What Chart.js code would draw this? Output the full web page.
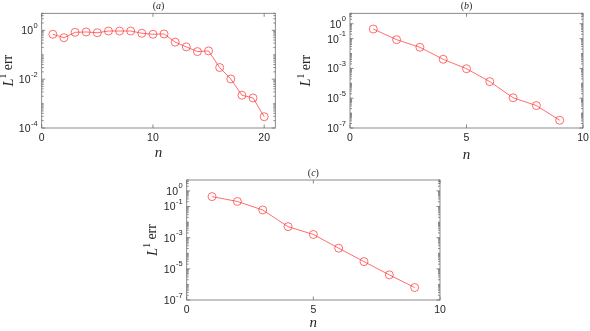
<!DOCTYPE html>
<html>
<head>
<meta charset="utf-8">
<script src="https://cdn.jsdelivr.net/npm/chart.js@4.4.1/dist/chart.umd.min.js"></script>
<style>
  html, body { margin: 0; padding: 0; background: #fff; }
  #wrap { position: relative; width: 590px; height: 331px; overflow: hidden; }
  canvas { position: absolute; }
</style>
</head>
<body>
<div id="wrap">
  <canvas id="chartA" width="295" height="165" style="left:0;top:0"></canvas>
  <canvas id="chartB" width="295" height="165" style="left:295px;top:0"></canvas>
  <canvas id="chartC" width="310" height="171" style="left:140px;top:160px"></canvas>
</div>
<script>
// panel (a)
const nA = [1, 2, 3, 4, 5, 6, 7, 8, 9, 10, 11, 12, 13, 14, 15, 16, 17, 18, 19, 20];
const errA = [0.69, 0.5, 0.83, 0.86, 0.8, 0.94, 0.94, 0.94, 0.76, 0.69, 0.71, 0.33, 0.21, 0.135, 0.144, 0.03, 0.0102, 0.0022, 0.0017, 0.00029];
// panel (b)
const nB = [1, 2, 3, 4, 5, 6, 7, 8, 9];
const errB = [0.44, 0.085, 0.026, 0.0041, 0.00095, 1.3e-4, 1.07e-5, 3.2e-6, 3.3e-7];
// panel (c)
const nC = [1, 2, 3, 4, 5, 6, 7, 8, 9];
const errC = [0.43, 0.21, 0.06, 0.0051, 0.0016, 2.1e-4, 2.9e-5, 4.1e-6, 6.3e-7];

const xTicksA = [0, 10, 20];
const xTicksBC = [0, 5, 10];
const yTicksA = [1e-4, 1e-2, 1];
const yTicksBC = [1e-7, 1e-5, 1e-3, 1e-1, 1];

const RED = 'rgba(255, 40, 40, 0.85)';
const AXIS = '#6e6e6e';
const TXT = '#262626';
const SERIF = '"Liberation Serif", "DejaVu Serif", serif';
const SANS = '"Liberation Sans", "DejaVu Sans", sans-serif';

// box, inward ticks, tick labels, title and axis labels
const framePlugin = {
  id: 'frame',
  afterDraw(chart, args, o) {
    const { ctx, chartArea: a, scales: { x, y } } = chart;
    ctx.save();
    ctx.strokeStyle = AXIS;
    ctx.lineWidth = 0.8;
    ctx.strokeRect(a.left, a.top, a.right - a.left, a.bottom - a.top);

    ctx.beginPath();
    const lo = Math.floor(Math.log10(y.min)), hi = Math.ceil(Math.log10(y.max));
    for (let d = lo; d <= hi; d++) {
      for (let k = 1; k <= 9; k++) {
        const v = k * Math.pow(10, d);
        if (v < y.min * 0.999 || v > y.max) continue;
        const major = o.yTicks.some(t => Math.abs(t - v) / t < 1e-6);
        const len = major ? 3.5 : 2;
        const py = y.getPixelForValue(v);
        ctx.moveTo(a.left, py); ctx.lineTo(a.left + len, py);
        ctx.moveTo(a.right, py); ctx.lineTo(a.right - len, py);
      }
    }
    x.ticks.forEach(t => {
      const px = x.getPixelForValue(t.value);
      ctx.moveTo(px, a.bottom); ctx.lineTo(px, a.bottom - 3.5);
      ctx.moveTo(px, a.top); ctx.lineTo(px, a.top + 3.5);
    });
    ctx.stroke();

    ctx.fillStyle = TXT;
    ctx.textBaseline = 'middle';
    const cx = (a.left + a.right) / 2;
    const cy = (a.top + a.bottom) / 2;

    // x tick labels
    ctx.font = '10.5px ' + SANS;
    ctx.textAlign = 'center';
    x.ticks.forEach(t => {
      ctx.fillText(String(t.value), x.getPixelForValue(t.value), a.bottom + 10.5);
    });

    // y tick labels 10^e
    y.ticks.forEach(t => {
      const e = String(Math.round(Math.log10(t.value)));
      const py = y.getPixelForValue(t.value);
      ctx.textAlign = 'right';
      ctx.font = '7.5px ' + SANS;
      const ew = ctx.measureText(e).width;
      ctx.fillText(e, a.left - 4, py - 4.5);
      ctx.font = '10.5px ' + SANS;
      ctx.fillText('10', a.left - 4.5 - ew, py + 1);
    });

    // panel title like (a)
    const parts = [['(', 'normal'], [o.letter, 'italic'], [')', 'normal']];
    let w = 0;
    parts.forEach(p => { ctx.font = p[1] + ' 10px ' + SERIF; w += ctx.measureText(p[0]).width; });
    let tx = cx - w / 2;
    ctx.textAlign = 'left';
    parts.forEach(p => {
      ctx.font = p[1] + ' 10px ' + SERIF;
      ctx.fillText(p[0], tx, a.top - 7);
      tx += ctx.measureText(p[0]).width;
    });

    // x label
    ctx.font = 'italic 15px ' + SERIF;
    ctx.textAlign = 'center';
    ctx.fillText('n', cx, a.bottom + o.xLabelGap);

    // y label
    ctx.save();
    ctx.translate(a.left - o.yLabelGap, cy);
    ctx.rotate(-Math.PI / 2);
    const segs = [['L', 'italic 14.5px ' + SERIF, 0], ['1', 'normal 9.5px ' + SERIF, -5], [' err', 'normal 14px ' + SERIF, 0]];
    let lw = 0;
    segs.forEach(s => { ctx.font = s[1]; lw += ctx.measureText(s[0]).width; });
    let lx = -lw / 2;
    ctx.textAlign = 'left';
    segs.forEach(s => {
      ctx.font = s[1];
      ctx.fillText(s[0], lx, s[2]);
      lx += ctx.measureText(s[0]).width;
    });
    ctx.restore();
    ctx.restore();
  }
};

function makePanel(id, xs, ys, cfg) {
  const ctx = document.getElementById(id).getContext('2d');
  return new Chart(ctx, {
    type: 'line',
    data: {
      datasets: [{
        data: xs.map((x, i) => ({ x: x, y: ys[i] })),
        borderColor: RED,
        borderWidth: 0.8,
        pointRadius: 4,
        pointBorderWidth: 0.8,
        pointBorderColor: RED,
        pointBackgroundColor: 'transparent',
        tension: 0,
        fill: false
      }]
    },
    options: {
      responsive: false,
      animation: false,
      events: [],
      layout: { padding: cfg.pad },
      plugins: {
        legend: { display: false },
        tooltip: { enabled: false },
        frame: cfg.frame
      },
      scales: {
        x: {
          type: 'linear',
          min: 0,
          max: cfg.xMax,
          afterBuildTicks: s => { s.ticks = cfg.xTicks.map(v => ({ value: v })); },
          afterFit: s => { s.height = cfg.xH; },
          grid: { display: false, drawTicks: false },
          border: { display: false },
          ticks: { display: false }
        },
        y: {
          type: 'logarithmic',
          min: cfg.yMin,
          max: 5,
          afterBuildTicks: s => { s.ticks = cfg.frame.yTicks.map(v => ({ value: v })); },
          afterFit: s => { s.width = cfg.yW; },
          grid: { display: false, drawTicks: false },
          border: { display: false },
          ticks: { display: false }
        }
      }
    },
    plugins: [framePlugin]
  });
}

makePanel('chartA', nA, errA, {
  pad: { left: 0, top: 13.3, right: 19.7, bottom: 0 },
  xMax: 21, yMin: 1e-4, yW: 41.7, xH: 37, xTicks: xTicksA,
  frame: { letter: 'a', yTicks: yTicksA, xLabelGap: 25, yLabelGap: 33 }
});
makePanel('chartB', nB, errB, {
  pad: { left: 0, top: 13.3, right: 7, bottom: 0 },
  xMax: 10, yMin: 1e-7, yW: 55, xH: 37, xTicks: xTicksBC,
  frame: { letter: 'b', yTicks: yTicksBC, xLabelGap: 27, yLabelGap: 44 }
});
makePanel('chartC', nC, errC, {
  pad: { left: 0, top: 20, right: 10, bottom: 0 },
  xMax: 10, yMin: 1e-7, yW: 46.7, xH: 31, xTicks: xTicksBC,
  frame: { letter: 'c', yTicks: yTicksBC, xLabelGap: 23, yLabelGap: 34 }
});
</script>
</body>
</html>
